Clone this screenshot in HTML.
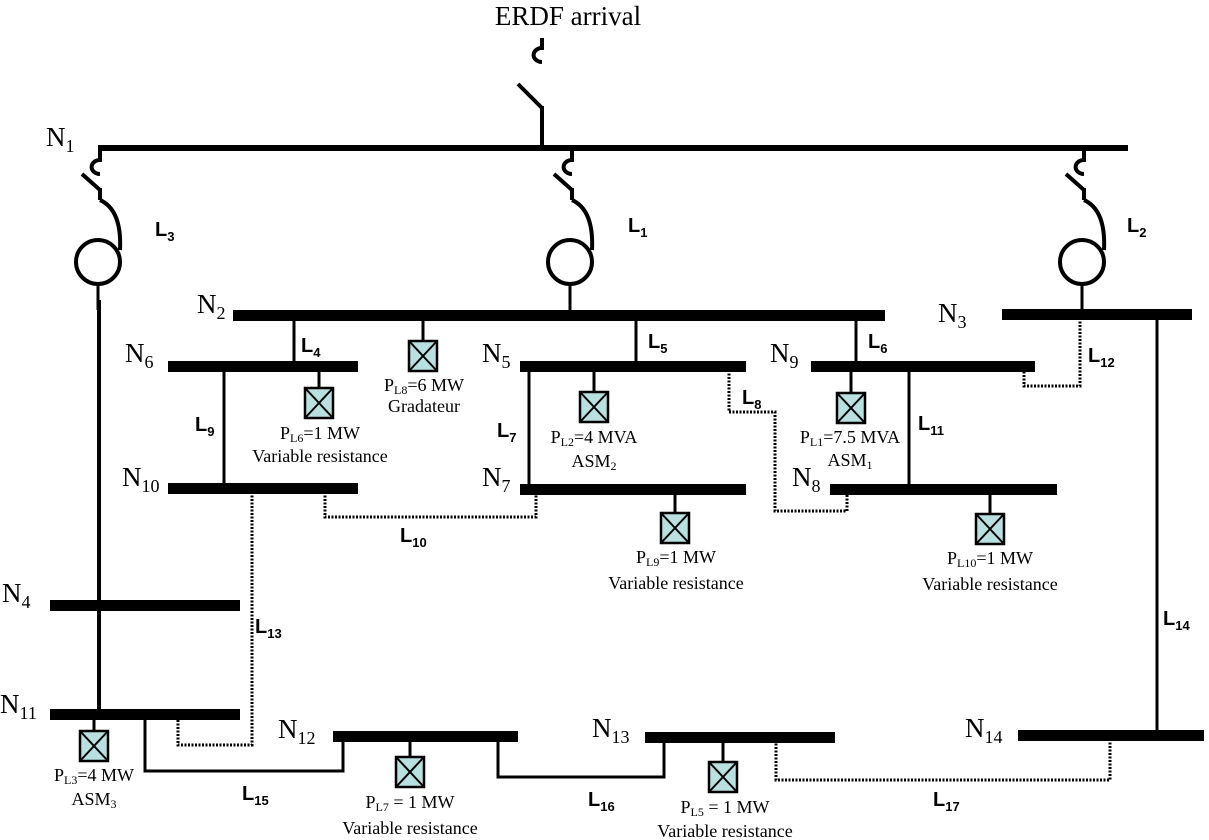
<!DOCTYPE html>
<html><head><meta charset="utf-8"><style>
html,body{margin:0;padding:0;background:#fff;}
svg{display:block}
.n{font-family:"Liberation Serif",serif;font-size:27px;}
.ns{font-size:18px}
.l{font-family:"Liberation Sans",sans-serif;font-weight:bold;font-size:20px;}
.ls{font-size:13px}
.t{font-family:"Liberation Serif",serif;font-size:18px;text-anchor:middle}
</style></head><body>
<svg width="1209" height="840" viewBox="0 0 1209 840" xmlns="http://www.w3.org/2000/svg">
<defs>
<g id="brk" fill="none" stroke="#000" stroke-width="4">
  <line x1="0" y1="0" x2="0" y2="12"/>
  <path d="M0 10 A6 5 0 1 0 0 24"/>
  <line x1="-18" y1="24" x2="0" y2="40"/>
  <line x1="0" y1="38" x2="0" y2="50"/>
</g>
<g id="trf" fill="none" stroke="#000" stroke-width="4">
  <path d="M0 50 Q22 60 20 100"/>
  <circle cx="-2" cy="112" r="22"/>
</g>
<g id="load">
  <rect x="-14" y="0" width="28" height="30" fill="#b9e0e0" stroke="#000" stroke-width="2.5"/>
  <line x1="-14" y1="0" x2="14" y2="30" stroke="#000" stroke-width="2"/>
  <line x1="14" y1="0" x2="-14" y2="30" stroke="#000" stroke-width="2"/>
</g>
</defs>

<text x="568" y="25" class="n" text-anchor="middle">ERDF arrival</text>
<g transform="translate(542,38)" fill="none" stroke="#000" stroke-width="4">
  <line x1="0" y1="0" x2="0" y2="12"/>
  <path d="M0 10 A6 5 0 1 0 0 24"/>
  <line x1="-24" y1="46" x2="0" y2="70"/>
  <line x1="0" y1="68" x2="0" y2="110"/>
</g>
<rect x="98" y="145" width="1030" height="6" fill="#000"/>
<text x="46" y="146" class="n">N<tspan class="ns" dy="6">1</tspan></text>

<use href="#brk" x="100" y="150"/><use href="#trf" x="100" y="150"/>
<use href="#brk" x="572" y="150"/><use href="#trf" x="572" y="150"/>
<use href="#brk" x="1084" y="150"/><use href="#trf" x="1084" y="150"/>
<line x1="98" y1="284" x2="98" y2="310" stroke="#000" stroke-width="3"/>
<line x1="570" y1="284" x2="570" y2="312" stroke="#000" stroke-width="3"/>
<line x1="1082" y1="284" x2="1082" y2="310" stroke="#000" stroke-width="3"/>
<text x="155" y="236" class="l">L<tspan class="ls" dy="5">3</tspan></text>
<text x="628" y="232" class="l">L<tspan class="ls" dy="5">1</tspan></text>
<text x="1127" y="232" class="l">L<tspan class="ls" dy="5">2</tspan></text>

<line x1="99" y1="300" x2="99" y2="715" stroke="#000" stroke-width="4"/>

<rect x="233" y="310" width="652" height="11" fill="#000"/>
<text x="197" y="313" class="n">N<tspan class="ns" dy="6">2</tspan></text>
<rect x="1002" y="309" width="190" height="11" fill="#000"/>
<text x="938" y="322" class="n">N<tspan class="ns" dy="6">3</tspan></text>

<line x1="294" y1="318" x2="294" y2="364" stroke="#000" stroke-width="3"/>
<text x="301" y="352" class="l">L<tspan class="ls" dy="5">4</tspan></text>
<rect x="168" y="361" width="190" height="11" fill="#000"/>
<text x="125" y="362" class="n">N<tspan class="ns" dy="6">6</tspan></text>
<line x1="319" y1="370" x2="319" y2="388" stroke="#000" stroke-width="3"/>
<use href="#load" x="319" y="388"/>
<text x="320" y="439" class="t">P<tspan font-size="12" dy="3">L6</tspan><tspan dy="-3">=1 MW</tspan></text>
<text x="320" y="462" class="t">Variable resistance</text>

<line x1="423" y1="318" x2="423" y2="341" stroke="#000" stroke-width="3"/>
<use href="#load" x="423" y="341"/>
<text x="424" y="391" class="t">P<tspan font-size="12" dy="3">L8</tspan><tspan dy="-3">=6 MW</tspan></text>
<text x="424" y="412" class="t">Gradateur</text>

<line x1="636" y1="318" x2="636" y2="364" stroke="#000" stroke-width="3"/>
<text x="648" y="348" class="l">L<tspan class="ls" dy="5">5</tspan></text>
<rect x="520" y="361" width="226" height="11" fill="#000"/>
<text x="482" y="362" class="n">N<tspan class="ns" dy="6">5</tspan></text>
<line x1="594" y1="370" x2="594" y2="392" stroke="#000" stroke-width="3"/>
<use href="#load" x="594" y="392"/>
<text x="594" y="443" class="t">P<tspan font-size="12" dy="3">L2</tspan><tspan dy="-3">=4 MVA</tspan></text>
<text x="594" y="467" class="t">ASM<tspan font-size="12" dy="3">2</tspan></text>

<line x1="856" y1="318" x2="856" y2="364" stroke="#000" stroke-width="3"/>
<text x="868" y="348" class="l">L<tspan class="ls" dy="5">6</tspan></text>
<rect x="811" y="361" width="224" height="11" fill="#000"/>
<text x="770" y="362" class="n">N<tspan class="ns" dy="6">9</tspan></text>
<line x1="851" y1="370" x2="851" y2="393" stroke="#000" stroke-width="3"/>
<use href="#load" x="851" y="393"/>
<text x="850" y="443" class="t">P<tspan font-size="12" dy="3">L1</tspan><tspan dy="-3">=7.5 MVA</tspan></text>
<text x="850" y="466" class="t">ASM<tspan font-size="12" dy="3">1</tspan></text>

<line x1="224" y1="370" x2="224" y2="486" stroke="#000" stroke-width="3"/>
<text x="195" y="431" class="l">L<tspan class="ls" dy="5">9</tspan></text>
<line x1="529" y1="370" x2="529" y2="486" stroke="#000" stroke-width="3"/>
<text x="497" y="437" class="l">L<tspan class="ls" dy="5">7</tspan></text>
<line x1="909" y1="370" x2="909" y2="486" stroke="#000" stroke-width="3"/>
<text x="918" y="430" class="l">L<tspan class="ls" dy="5">11</tspan></text>

<rect x="168" y="483" width="190" height="11" fill="#000"/>
<text x="122" y="486" class="n">N<tspan class="ns" dy="6">10</tspan></text>
<rect x="520" y="484" width="226" height="11" fill="#000"/>
<text x="482" y="486" class="n">N<tspan class="ns" dy="6">7</tspan></text>
<rect x="830" y="484" width="227" height="11" fill="#000"/>
<text x="792" y="486" class="n">N<tspan class="ns" dy="6">8</tspan></text>

<line x1="675" y1="492" x2="675" y2="513" stroke="#000" stroke-width="3"/>
<use href="#load" x="675" y="513"/>
<text x="676" y="563" class="t">P<tspan font-size="12" dy="3">L9</tspan><tspan dy="-3">=1 MW</tspan></text>
<text x="676" y="589" class="t">Variable resistance</text>
<line x1="990" y1="492" x2="990" y2="514" stroke="#000" stroke-width="3"/>
<use href="#load" x="990" y="514"/>
<text x="990" y="564" class="t">P<tspan font-size="12" dy="3">L10</tspan><tspan dy="-3">=1 MW</tspan></text>
<text x="990" y="590" class="t">Variable resistance</text>

<g fill="none" stroke="#000" stroke-width="3" stroke-dasharray="2,1.5">
  <polyline points="729,370 729,412 775,412 775,511 847,511 847,492"/>
  <polyline points="325,492 325,517 536,517 536,492"/>
  <polyline points="252,492 252,745 178,745 178,720"/>
  <polyline points="1080,318 1080,386 1024,386 1024,372"/>
  <polyline points="776,740 776,780 1110,780 1110,742"/>
</g>
<text x="742" y="404" class="l">L<tspan class="ls" dy="5">8</tspan></text>
<text x="400" y="542" class="l">L<tspan class="ls" dy="5">10</tspan></text>
<text x="1088" y="362" class="l">L<tspan class="ls" dy="5">12</tspan></text>
<text x="255" y="633" class="l">L<tspan class="ls" dy="5">13</tspan></text>
<text x="1163" y="625" class="l">L<tspan class="ls" dy="5">14</tspan></text>
<text x="933" y="806" class="l">L<tspan class="ls" dy="5">17</tspan></text>

<rect x="50" y="600" width="190" height="11" fill="#000"/>
<text x="2" y="602" class="n">N<tspan class="ns" dy="6">4</tspan></text>
<rect x="50" y="709" width="190" height="11" fill="#000"/>
<text x="0" y="713" class="n">N<tspan class="ns" dy="6">11</tspan></text>
<line x1="94" y1="718" x2="94" y2="731" stroke="#000" stroke-width="3"/>
<use href="#load" x="94" y="731"/>
<text x="94" y="781" class="t">P<tspan font-size="12" dy="3">L3</tspan><tspan dy="-3">=4 MW</tspan></text>
<text x="94" y="805" class="t">ASM<tspan font-size="12" dy="3">3</tspan></text>

<polyline points="145,718 145,771 343,771 343,738" fill="none" stroke="#000" stroke-width="3"/>
<text x="242" y="800" class="l">L<tspan class="ls" dy="5">15</tspan></text>

<rect x="333" y="731" width="185" height="11" fill="#000"/>
<text x="278" y="738" class="n">N<tspan class="ns" dy="6">12</tspan></text>
<line x1="410" y1="740" x2="410" y2="757" stroke="#000" stroke-width="3"/>
<use href="#load" x="410" y="757"/>
<text x="410" y="808" class="t">P<tspan font-size="12" dy="3">L7</tspan><tspan dy="-3"> = 1 MW</tspan></text>
<text x="410" y="834" class="t">Variable resistance</text>

<polyline points="498,740 498,777 664,777 664,740" fill="none" stroke="#000" stroke-width="3"/>
<text x="588" y="806" class="l">L<tspan class="ls" dy="5">16</tspan></text>

<rect x="645" y="732" width="190" height="11" fill="#000"/>
<text x="592" y="737" class="n">N<tspan class="ns" dy="6">13</tspan></text>
<line x1="723" y1="742" x2="723" y2="762" stroke="#000" stroke-width="3"/>
<use href="#load" x="723" y="762"/>
<text x="725" y="813" class="t">P<tspan font-size="12" dy="3">L5</tspan><tspan dy="-3"> = 1 MW</tspan></text>
<text x="725" y="837" class="t">Variable resistance</text>

<line x1="1157" y1="318" x2="1157" y2="732" stroke="#000" stroke-width="3"/>
<rect x="1018" y="730" width="186" height="11" fill="#000"/>
<text x="965" y="737" class="n">N<tspan class="ns" dy="6">14</tspan></text>
</svg>
</body></html>
